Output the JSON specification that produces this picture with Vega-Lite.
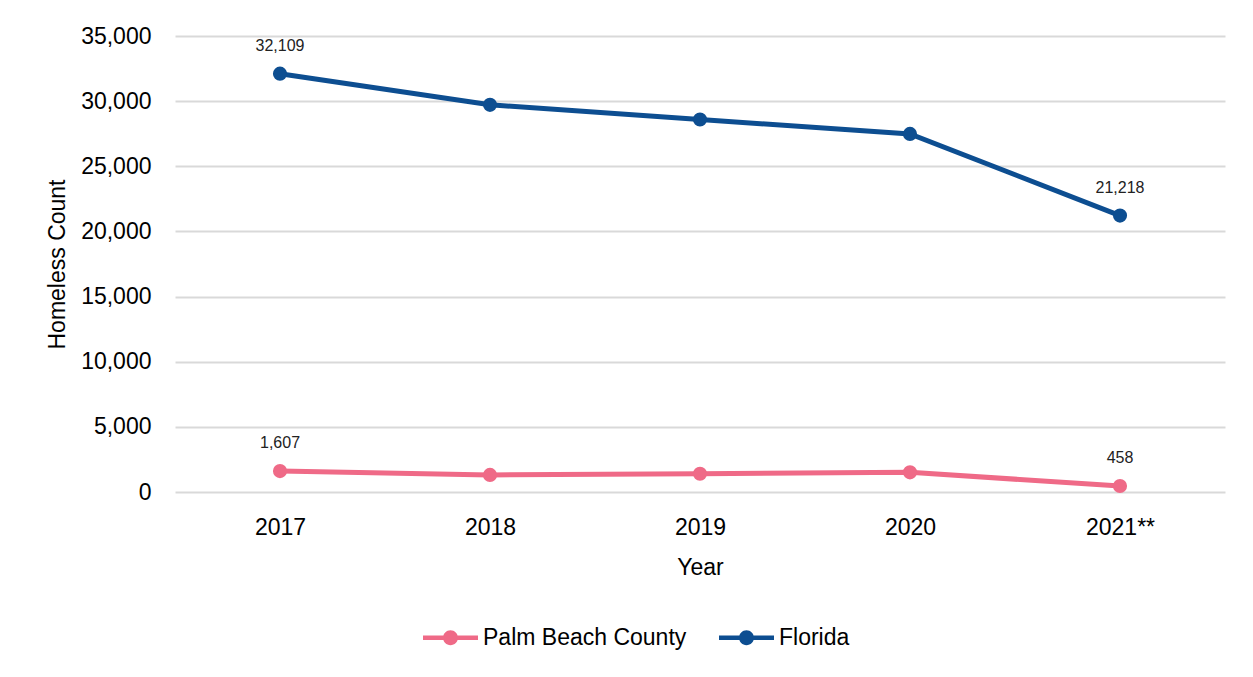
{
  "$schema": "https://vega.github.io/schema/vega-lite/v6.json",
  "width": 1050,
  "height": 456,
  "autosize": {"type": "none"},
  "padding": {"left": 175, "top": 36, "right": 28, "bottom": 185},
  "background": "#ffffff",
  "config": {
    "font": "Liberation Sans",
    "view": {"stroke": null},
    "axis": {"labelFont": "Liberation Sans", "titleFont": "Liberation Sans", "labelColor": "#000000", "titleColor": "#000000", "titleFontWeight": "normal"}
  },
  "data": {
    "values": [
      {"year": "2017", "region": "Palm Beach County", "count": 1607},
      {"year": "2018", "region": "Palm Beach County", "count": 1310},
      {"year": "2019", "region": "Palm Beach County", "count": 1397},
      {"year": "2020", "region": "Palm Beach County", "count": 1510},
      {"year": "2021**", "region": "Palm Beach County", "count": 458},
      {"year": "2017", "region": "Florida", "count": 32109},
      {"year": "2018", "region": "Florida", "count": 29717},
      {"year": "2019", "region": "Florida", "count": 28591},
      {"year": "2020", "region": "Florida", "count": 27487},
      {"year": "2021**", "region": "Florida", "count": 21218}
    ]
  },
  "encoding": {
    "x": {
      "field": "year", "type": "ordinal", "sort": null,
      "scale": {"type": "point", "padding": 0.5},
      "axis": {"title": "Year", "labelAngle": 0, "labelFontSize": 23, "titleFontSize": 23, "domain": false, "ticks": false, "labelPadding": 24, "titlePadding": 17, "grid": false}
    },
    "y": {
      "field": "count", "type": "quantitative",
      "scale": {"domain": [0, 35000], "nice": false},
      "axis": {"title": "Homeless Count", "values": [0, 5000, 10000, 15000, 20000, 25000, 30000, 35000], "format": ",.0f", "labelFontSize": 23, "titleFontSize": 23, "domain": false, "ticks": false, "labelPadding": 24, "titlePadding": 11, "gridColor": "#d9d9d9", "gridWidth": 2}
    },
    "color": {
      "field": "region", "type": "nominal",
      "scale": {"domain": ["Palm Beach County", "Florida"], "range": ["#EF6A87", "#0D4E91"]},
      "legend": {
        "title": null, "orient": "none", "direction": "horizontal",
        "legendX": 248, "legendY": 574,
        "labelFontSize": 23, "labelFont": "Liberation Sans", "labelColor": "#000000", "labelLimit": 0,
        "symbolType": "M-1,-0.08 L1,-0.08 L1,0.08 L-1,0.08 Z M-0.27,0 A0.27,0.27 0 1,1 0.27,0 A0.27,0.27 0 1,1 -0.27,0 Z",
        "symbolSize": 3025, "symbolStrokeWidth": 0, "symbolOpacity": 1,
        "labelOffset": 5, "columnPadding": 32
      }
    }
  },
  "layer": [
    {"mark": {"type": "line", "strokeWidth": 5}},
    {"mark": {"type": "point", "filled": true, "size": 200, "opacity": 1}},
    {
      "transform": [{"filter": "datum.year == '2017' || datum.year == '2021**'"}],
      "mark": {"type": "text", "dy": -28, "fontSize": 16, "font": "Liberation Sans", "color": "#222222"},
      "encoding": {"text": {"field": "count", "type": "quantitative", "format": ",.0f"}, "color": {"value": "#222222"}}
    }
  ]
}
